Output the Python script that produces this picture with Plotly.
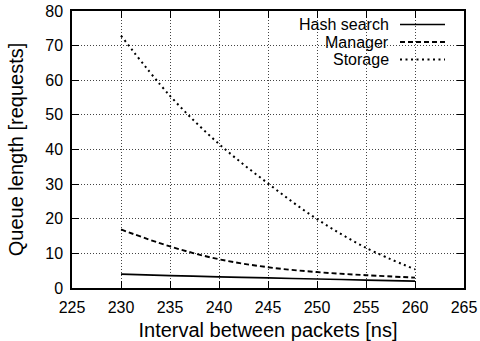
import plotly.graph_objects as go

interval = [230, 235, 240, 245, 250, 255, 260]
hash_search = [4.0, 3.6, 3.2, 2.9, 2.6, 2.3, 2.0]
manager = [16.9, 12.0, 8.3, 6.0, 4.6, 3.7, 3.0]
storage = [72.9, 55.5, 41.6, 30.2, 19.9, 11.6, 5.4]

series = [
    ("Hash search", hash_search, "solid", 1.7),
    ("Manager", manager, "5px,3px", 1.9),
    ("Storage", storage, "2px,3.5px", 2.0),
]

font = "Liberation Sans, Arial, Helvetica, sans-serif"
fig = go.Figure()
for name, vals, dash, w in series:
    fig.add_trace(go.Scatter(x=interval, y=vals, mode="lines", name=name,
                             line=dict(color="black", width=w, dash=dash, shape="spline"),
                             showlegend=False, hoverinfo="skip"))

axis_common = dict(
    showline=True, linecolor="black", linewidth=1.5, mirror="ticks",
    ticks="inside", ticklen=7, tickwidth=1, tickcolor="black",
    showgrid=True, gridcolor="#444", gridwidth=1, griddash="1px,2px",
    zeroline=False, tickfont=dict(size=16, color="black", family=font),
    automargin=False,
)
fig.update_xaxes(range=[225, 265], dtick=5, tick0=225,
                 title=dict(text="Interval between packets [ns]", font=dict(size=20, family=font, color="black"), standoff=8),
                 ticklabelstandoff=4, **axis_common)
fig.update_yaxes(range=[0, 80], dtick=10, tick0=0,
                 title=dict(text="Queue length [requests]", font=dict(size=20, family=font, color="black"), standoff=16),
                 ticklabelstandoff=4, **axis_common)

# manual gnuplot-style key: text on the left, line sample on the right
shapes = [dict(type="rect", xref="paper", yref="paper", x0=(285-72)/392, x1=(458-72)/392,
               y0=(288-69)/277, y1=0.997, fillcolor="white", line=dict(width=0), layer="between")]
annotations = []
rows_y = [24.5, 42, 59.5]
for (name, vals, dash, w), ry in zip(series, rows_y):
    yp = (288 - ry) / 277
    annotations.append(dict(text=name, xref="paper", yref="paper", x=(391-72)/392, y=yp,
                            xanchor="right", yanchor="middle", showarrow=False,
                            font=dict(size=16, family=font, color="black")))
    shapes.append(dict(type="line", xref="paper", yref="paper", x0=(400-72)/392, x1=(445-72)/392,
                       y0=yp, y1=yp, line=dict(color="black", width=w, dash=dash), layer="above"))

fig.update_layout(
    width=480, height=341, margin=dict(l=72, r=16, t=11, b=53),
    plot_bgcolor="white", paper_bgcolor="white",
    font=dict(family=font, color="black"),
    shapes=shapes, annotations=annotations,
)
fig.write_html("out.html", config={"displayModeBar": False},
               post_script="document.body.style.margin='0';")
